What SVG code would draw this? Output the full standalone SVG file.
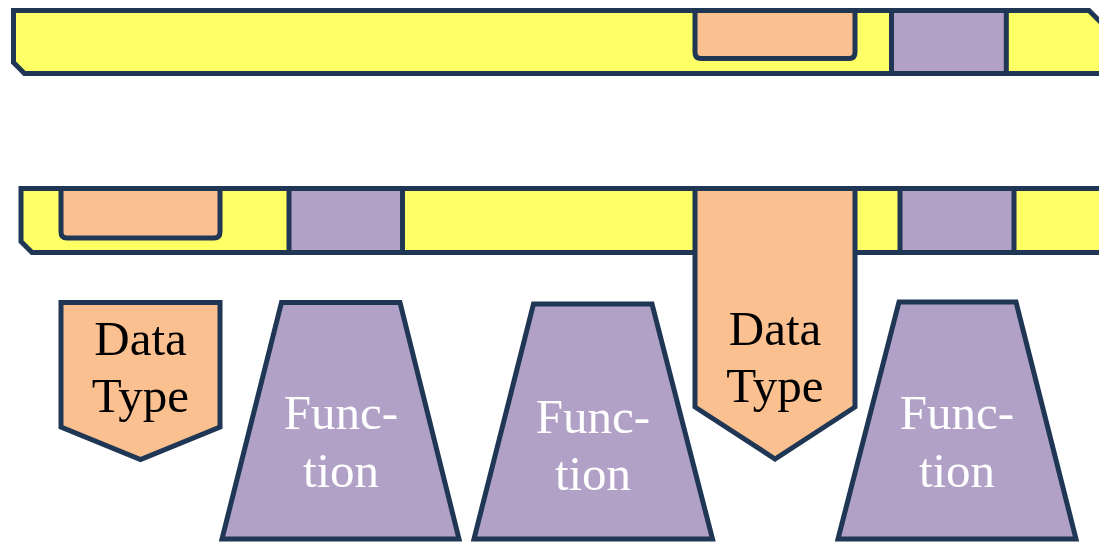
<svg xmlns="http://www.w3.org/2000/svg" width="1099" height="544" viewBox="0 0 1099 544">
<style>
.s{stroke:#1F3654;stroke-width:5;stroke-linejoin:miter}
.y{fill:#FFFF66}
.o{fill:#FAC090}
.p{fill:#B2A1C7}
.t{font-family:"Liberation Serif","DejaVu Serif",serif;font-size:49px;text-anchor:middle}
.tb{fill:#000000}
.tw{fill:#FFFFFF}
</style>
<rect width="1099" height="544" fill="#FFFFFF"/>
<g id="bar-top">
<path class="s y" d="M13.5,10.5 H1089 L1102,23.5 V73.5 H24.5 L13.5,62.5 Z"/>
<path class="s o" d="M695,10.5 V52.5 Q695,58.5 701,58.5 H849 Q855,58.5 855,52.5 V10.5 Z"/>
<rect class="s p" x="891.5" y="10.5" width="114.8" height="63"/>
</g>
<g id="bar-bottom">
<path class="s y" d="M21,188.5 H1106 V252.5 H32 L21,241.5 Z"/>
<path class="s o" d="M61,188.5 V232 Q61,238 67,238 H214 Q220,238 220,232 V188.5 Z"/>
<rect class="s p" x="289" y="188.5" width="113.5" height="64"/>
<rect class="s p" x="900" y="188.5" width="114" height="64"/>
</g>
<g id="datatype-big">
<polygon class="s o" points="695,188.5 855,188.5 855,407 775,459 695,407"/>
<text class="t tb" x="775" y="345">Data</text>
<text class="t tb" x="775" y="402">Type</text>
</g>
<g id="datatype-small">
<polygon class="s o" points="61,302.5 220,302.5 220,427 140.5,459.5 61,427"/>
<text class="t tb" x="140.5" y="355">Data</text>
<text class="t tb" x="140.5" y="412">Type</text>
</g>
<g id="function-1">
<polygon class="s p" points="281.5,302.5 400,302.5 459,539 222,539"/>
<text class="t tw" x="341" y="429">Func-</text>
<text class="t tw" x="341" y="486.5">tion</text>
</g>
<g id="function-2">
<polygon class="s p" points="533.5,304 652,304 712.5,539 474,539"/>
<text class="t tw" x="593" y="432.5">Func-</text>
<text class="t tw" x="593" y="490">tion</text>
</g>
<g id="function-3">
<polygon class="s p" points="899,302 1016,302 1076,539 838,539"/>
<text class="t tw" x="957" y="429">Func-</text>
<text class="t tw" x="957" y="486.5">tion</text>
</g>
</svg>
